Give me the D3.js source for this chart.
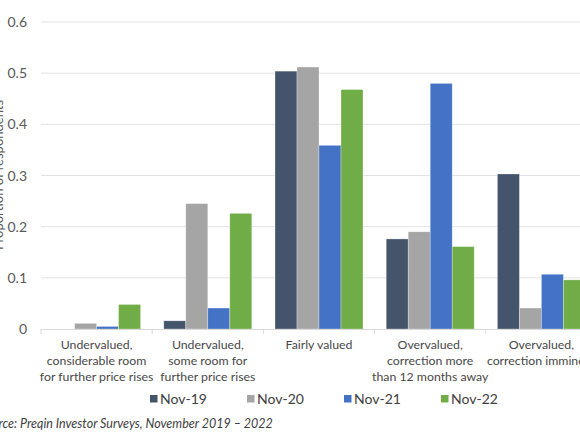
<!DOCTYPE html>
<html>
<head>
<meta charset="utf-8">
<script src="https://cdn.jsdelivr.net/npm/d3@7"></script>
<style>
  body { margin: 0; background: #fff; }
  svg { overflow: visible; font-family: Lato, "Open Sans", sans-serif; }
</style>
</head>
<body>
<svg id="chart" width="580" height="435"></svg>
<script>
const categories = [
    ["Undervalued,", "considerable room", "for further price rises"],
    ["Undervalued,", "some room for", "further price rises"],
    ["Fairly valued"],
    ["Overvalued,", "correction more", "than 12 months away"],
    ["Overvalued,", "correction imminent"]
];
const seriesNames = ["Nov-19", "Nov-20", "Nov-21", "Nov-22"];
const nov19 = [0, 0.016, 0.504, 0.176, 0.303];
const nov20 = [0.011, 0.245, 0.512, 0.190, 0.041];
const nov21 = [0.005, 0.041, 0.359, 0.480, 0.107];
const nov22 = [0.048, 0.226, 0.468, 0.161, 0.096];
const yTicks = [0, 0.1, 0.2, 0.3, 0.4, 0.5, 0.6];
const colors = ["#44546a", "#a5a5a5", "#4472c4", "#70ad47"];

const allSeries = [nov19, nov20, nov21, nov22];

const svg = d3.select("#chart");
const plotLeft = 41, plotTop = 22, plotBottom = 329, bandW = 111.2;
const plotRight = plotLeft + bandW * categories.length;

const x0 = d3.scaleBand()
    .domain(d3.range(categories.length))
    .range([plotLeft, plotRight]);

const x1 = d3.scaleBand()
    .domain(seriesNames)
    .range([11.6, x0.bandwidth() - 11.6]);

const y = d3.scaleLinear()
    .domain([0, 0.6])
    .range([plotBottom, plotTop]);

const color = d3.scaleOrdinal().domain(seriesNames).range(colors);

// gridlines
svg.append("g")
   .selectAll("line")
   .data(yTicks.slice(1))
   .enter()
   .append("line")
   .attr("x1", plotLeft)
   .attr("x2", plotRight)
   .attr("y1", d => y(d))
   .attr("y2", d => y(d))
   .attr("stroke", "#e3e3e3")
   .attr("stroke-width", 1);

// y tick labels
svg.append("g")
   .selectAll("text")
   .data(yTicks)
   .enter()
   .append("text")
   .attr("x", 27)
   .attr("y", d => y(d) + 5)
   .attr("text-anchor", "end")
   .attr("fill", "#595959")
   .style("font-size", "14px")
   .text(d => d === 0 ? "0" : d.toFixed(1));

// y title
svg.append("text")
   .attr("transform", "translate(3,175) rotate(-90)")
   .attr("text-anchor", "middle")
   .attr("fill", "#595959")
   .style("font-size", "13px")
   .text("Proportion of respondents");

// bars
const groups = svg.append("g")
    .selectAll("g")
    .data(categories.map((c, i) => i))
    .enter()
    .append("g")
    .attr("transform", i => `translate(${x0(i)},0)`);

groups.selectAll("rect")
      .data(i => seriesNames.map((s, k) => ({ s: s, v: allSeries[k][i] })).filter(d => d.v > 0))
      .enter()
      .append("rect")
      .attr("x", d => x1(d.s))
      .attr("y", d => y(d.v))
      .attr("width", x1.bandwidth())
      .attr("height", d => y(0) - y(d.v))
      .attr("fill", d => color(d.s))
      .attr("stroke", "#ffffff")
      .attr("stroke-opacity", 0.5)
      .attr("stroke-width", 0.6);

// x axis line and ticks
svg.append("line")
   .attr("x1", plotLeft)
   .attr("x2", plotRight)
   .attr("y1", y(0) + 0.5)
   .attr("y2", y(0) + 0.5)
   .attr("stroke", "#d9d9d9");

svg.append("g")
   .selectAll("line")
   .data(d3.range(categories.length + 1))
   .enter()
   .append("line")
   .attr("x1", i => plotLeft + i * x0.bandwidth())
   .attr("x2", i => plotLeft + i * x0.bandwidth())
   .attr("y1", y(0))
   .attr("y2", y(0) + 5)
   .attr("stroke", "#d9d9d9");

// category labels
const labels = svg.append("g")
    .selectAll("text")
    .data(categories)
    .enter()
    .append("text")
    .attr("text-anchor", "middle")
    .attr("fill", "#484848")
    .style("font-size", "12.3px");

labels.selectAll("tspan")
      .data((d, i) => d.map((line, j) => ({ line: line, j: j, i: i })))
      .enter()
      .append("tspan")
      .attr("x", d => x0(d.i) + x0.bandwidth() / 2)
      .attr("y", d => 349 + d.j * 15.8)
      .text(d => d.line);

// legend
const legendX = d3.scaleBand()
    .domain(seriesNames)
    .range([150, 538]);

const legend = svg.append("g")
    .selectAll("g")
    .data(seriesNames)
    .enter()
    .append("g")
    .attr("transform", d => `translate(${legendX(d)},400)`);

legend.append("rect")
      .attr("x", 0)
      .attr("y", -5)
      .attr("width", 7.5)
      .attr("height", 7.5)
      .attr("fill", d => color(d));

legend.append("text")
      .attr("x", 10)
      .attr("y", 3.5)
      .attr("fill", "#404040")
      .style("font-size", "14px")
      .text(d => d);

// source
svg.append("text")
   .attr("x", -21)
   .attr("y", 428)
   .attr("fill", "#404040")
   .style("font-size", "12.5px")
   .style("font-style", "italic")
   .text("Source: Preqin Investor Surveys, November 2019 – 2022");
</script>
</body>
</html>
